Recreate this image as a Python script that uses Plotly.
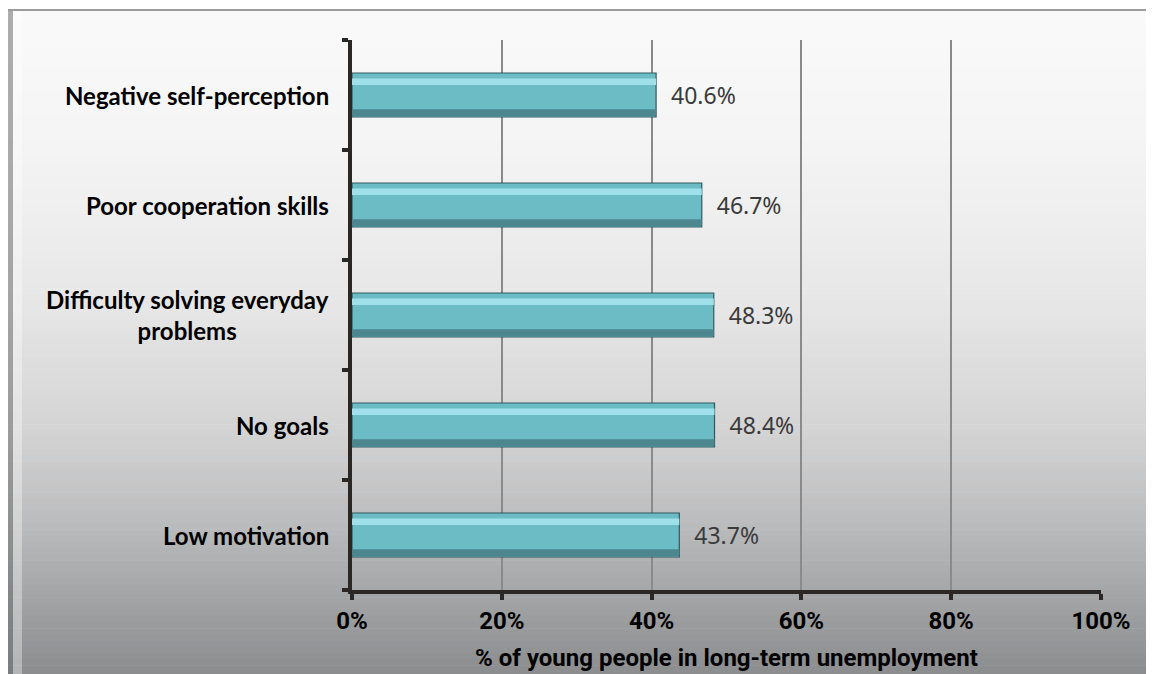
import plotly.graph_objects as go

categories = ["Low motivation", "No goals", "Difficulty solving everyday<br>problems",
              "Poor cooperation skills", "Negative self-perception"]
values = [43.7, 48.4, 48.3, 46.7, 40.6]
x_ticks = [0, 20, 40, 60, 80, 100]
x_tick_labels = ["0%", "20%", "40%", "60%", "80%", "100%"]
x_title = "% of young people in long-term unemployment"

W, H = 1154, 674
OFF = 8  # page body margin
L, R, T, B = 352 - OFF, 1101 - OFF, 40 - OFF, 590 - OFF  # plot area in figure pixels


def px_x(p):
    return (p - OFF - L) / (R - L)


def px_y(p):
    return (B - (p - OFF)) / (B - T)


def lerp(c1, c2, t):
    return tuple(int(round(a + (b - a) * t)) for a, b in zip(c1, c2))


stops = [(10, (250, 250, 250)), (150, (244, 244, 244)), (300, (231, 231, 231)),
         (430, (212, 212, 213)), (530, (185, 186, 187)), (600, (162, 163, 165)),
         (690, (134, 136, 138))]


def color_at(py):
    for (y1, c1), (y2, c2) in zip(stops, stops[1:]):
        if y1 <= py <= y2:
            return "rgb(%d,%d,%d)" % lerp(c1, c2, (py - y1) / (y2 - y1))
    return "rgb(%d,%d,%d)" % stops[-1][1]


shapes = []
top, bottom = 10, 690
n = 110
step = (bottom - top) / n
for i in range(n):
    y0 = top + i * step
    y1 = y0 + step + 0.6
    shapes.append(dict(type="rect", xref="paper", yref="paper", layer="below",
                       x0=px_x(8), x1=px_x(1170), y0=px_y(y1), y1=px_y(y0),
                       fillcolor=color_at(y0 + step / 2), line=dict(width=0)))
# bevel edges
shapes.append(dict(type="rect", xref="paper", yref="paper", layer="below",
                   x0=px_x(8), x1=px_x(13), y0=px_y(690), y1=px_y(10),
                   fillcolor="rgba(110,110,110,0.55)", line=dict(width=0)))
shapes.append(dict(type="rect", xref="paper", yref="paper", layer="below",
                   x0=px_x(13), x1=px_x(22), y0=px_y(690), y1=px_y(12),
                   fillcolor="rgba(255,255,255,0.35)", line=dict(width=0)))
shapes.append(dict(type="rect", xref="paper", yref="paper", layer="below",
                   x0=px_x(1147), x1=px_x(1170), y0=px_y(690), y1=px_y(10),
                   fillcolor="rgba(120,120,120,0.35)", line=dict(width=0)))
shapes.append(dict(type="line", xref="paper", yref="paper", layer="below",
                   x0=px_x(8), x1=px_x(1170), y0=px_y(10), y1=px_y(10),
                   line=dict(color="#9c9c9c", width=2)))

cond = "Roboto, Lato, sans-serif"

fig = go.Figure()
# main bar
fig.add_trace(go.Bar(
    y=categories, x=values, orientation="h", width=0.4, offset=-0.2,
    marker=dict(color="#6cbcc6", line=dict(color="#2f5a60", width=1.2)),
    texttemplate="  %{x:.1f}%", textposition="outside", cliponaxis=False,
    textfont=dict(family="Noto Sans, Open Sans, sans-serif", size=23, color="#3a3a3a"),
    hoverinfo="skip", showlegend=False))
# top highlight
fig.add_trace(go.Bar(
    y=categories, x=values, orientation="h", width=0.06, offset=0.09,
    marker=dict(color="#9fe0ea", line=dict(width=0)), hoverinfo="skip", showlegend=False))
# bottom shadow
fig.add_trace(go.Bar(
    y=categories, x=values, orientation="h", width=0.06, offset=-0.19,
    marker=dict(color="#4c878f", line=dict(width=0)), hoverinfo="skip", showlegend=False))

annotations = []
for c in categories:
    annotations.append(dict(x=px_x(331), y=c, xref="paper", yref="y", text="<b>%s</b>" % c,
                            xanchor="right", yanchor="middle", align="center", showarrow=False,
                            font=dict(family="Lato, Noto Sans, sans-serif", size=24, color="#000000")))

fig.update_layout(
    width=W, height=H,
    margin=dict(l=L, r=W - R, t=T, b=H - B, pad=0),
    paper_bgcolor="white", plot_bgcolor="white",
    barmode="overlay", showlegend=False,
    shapes=shapes, annotations=annotations,
    xaxis=dict(range=[0, 100], tickvals=x_ticks, ticktext=["<b>%s</b>" % t for t in x_tick_labels],
               showgrid=True, gridcolor="#8a8a8a", gridwidth=1.5, zeroline=False,
               showline=True, linecolor="#2a2725", linewidth=4,
               ticks="outside", ticklen=6, tickwidth=4, tickcolor="#2a2725",
               tickfont=dict(family=cond, size=24, color="#000000"),
               title=dict(text="<b>%s</b>" % x_title, standoff=16,
                          font=dict(family=cond, size=24, color="#000000")),
               fixedrange=True),
    yaxis=dict(type="category", categoryorder="array", categoryarray=categories,
               range=[-0.5, 4.5], showticklabels=False, showgrid=False, zeroline=False,
               showline=True, linecolor="#2a2725", linewidth=4,
               ticks="outside", tickson="boundaries", ticklen=6, tickwidth=4, tickcolor="#2a2725",
               fixedrange=True),
)

fig.write_html("out.html")
